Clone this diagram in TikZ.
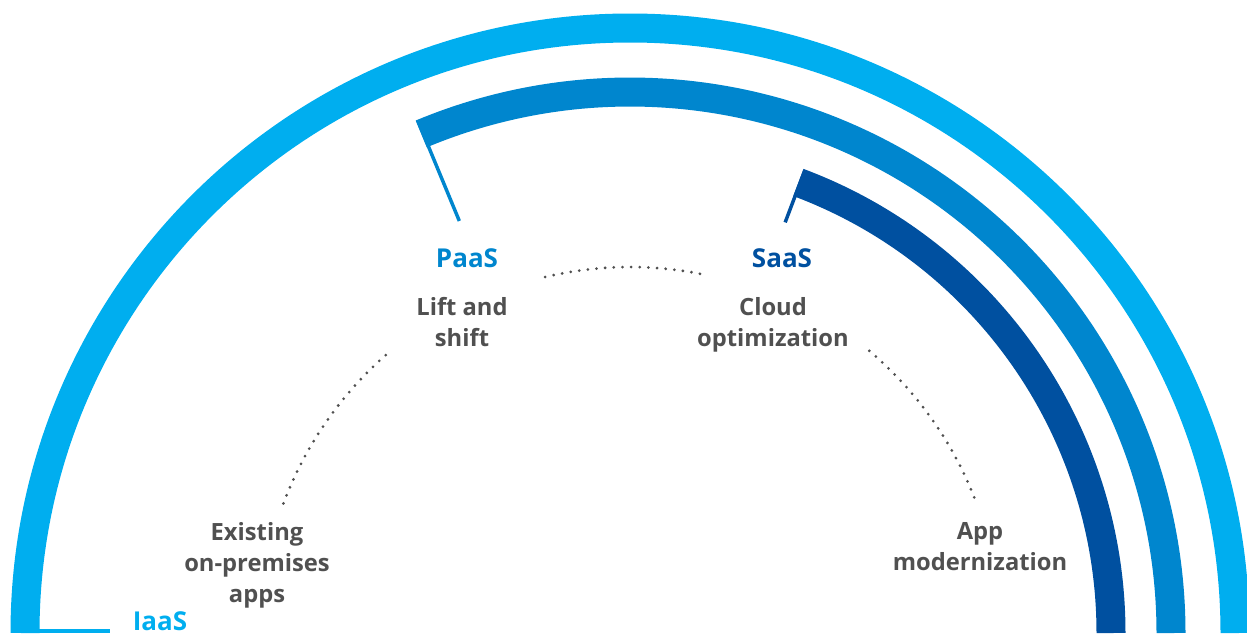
\documentclass[tikz,border=0pt]{standalone}
\usepackage{fontspec}
\setmainfont{Open Sans}
\usepackage{tikz}
\usetikzlibrary{calc}
\usepackage{xcolor}

\definecolor{iaasblue}{RGB}{0,174,239}
\definecolor{paasblue}{RGB}{0,134,206}
\definecolor{saasblue}{RGB}{0,80,160}
\definecolor{textgray}{RGB}{80,80,80}

\tikzset{
  band/.style={line width=21.75pt},
  pole/.style={line width=2.6pt},
  dotline/.style={color=textgray, line width=2.3pt, line cap=round, dash pattern=on 0pt off 6.5pt},
  tier/.style={font=\bfseries\fontsize{19.5}{24}\selectfont, inner sep=0.75pt},
  stage/.style={font=\bfseries\fontsize{17.8}{23.3}\selectfont, text=textgray, align=center, inner sep=0.75pt},
}

\begin{document}
\begin{tikzpicture}[x=0.75pt,y=0.75pt,yscale=-1,xscale=1]
\useasboundingbox (0,0) rectangle (1247,637);
\coordinate (hub) at (630,633);

%Arc: IaaS band
\draw [band, iaasblue] (hub) ++(180:605) arc [start angle=180, end angle=360, radius=605];
%Straight Lines: IaaS foot
\coordinate (footend) at (110,631);
\draw [iaasblue, line width=3pt] (25,631) -- (footend);
%Arc: PaaS band
\draw [band, paasblue] (hub) ++(247.3:541) arc [start angle=247.3, end angle=360, radius=541];
\draw [pole, paasblue] ($(hub)+(247.5:555)$) -- ($(hub)+(247.5:446)$);
%Arc: SaaS band
\draw [band, saasblue] (hub) ++(290.5:481) arc [start angle=290.5, end angle=360, radius=481];
\draw [pole, saasblue] ($(hub)+(290.7:495)$) -- ($(hub)+(290.7:439)$);

% Dotted path
\draw [dotline] (hub) ++(200.5:370) arc [start angle=200.5, end angle=230, radius=370];
\draw [dotline] (hub) ++(256.6:366) arc [start angle=256.6, end angle=281.4, radius=366];
\draw [dotline] (hub) ++(310.3:370) arc [start angle=310.3, end angle=339.5, radius=370];

% Text Node
\node [tier, text=paasblue] (paas) at (467,258) {PaaS};
% Text Node
\node [tier, text=saasblue] (saas) at (782,258) {SaaS};
% Text Node
\node [tier, text=iaasblue] (iaas) at (160,621) {IaaS};
% Text Node
\node [stage] (lift) at (462,322) {Lift and\\shift};
% Text Node
\node [stage] (cloud) at (773,325) {Cloud\\optimization};
% Text Node
\node [stage] (existing) at (257,565) {Existing\\on-premises\\apps};
% Text Node
\node [stage] (appmod) at (980,547) {App\\modernization};

\end{tikzpicture}
\end{document}
